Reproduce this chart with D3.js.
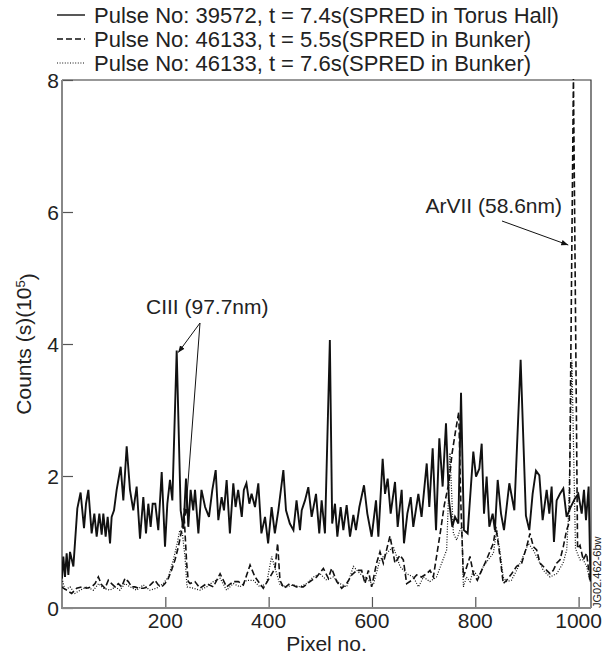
<!DOCTYPE html>
<html lang="en">
<head>
<meta charset="utf-8">
<script src="https://d3js.org/d3.v7.min.js"></script>
<style>
  body { margin: 0; background: #fff; }
  svg text { font-family: "Liberation Sans", Arial, Helvetica, sans-serif; fill: #222; }
</style>
</head>
<body>
<svg id="chart" width="610" height="661"></svg>
<script>

// pixel no. / counts (10^5) pairs
const torusHall_39572 = [[0,0.45],[2.6,0.78],[5.8,0.47],[9,0.83],[12.3,0.5],[15.5,0.85],[22,0.63],[29.7,1.51],[36,1.75],[42.6,1.21],[46.5,1.58],[51,1.79],[57.4,1.13],[62.6,1.43],[67.1,1.08],[72.3,1.43],[76.8,1.11],[80,1.43],[84.5,1.08],[88.4,1.38],[93,0.98],[96.1,1.38],[100.7,1.48],[105.8,1.79],[113.6,2.14],[118.7,1.63],[125.2,2.45],[131.6,1.79],[138,1.48],[144.5,1.84],[151,1.05],[157.4,1.68],[162.6,1.13],[167.1,1.58],[171.6,1.23],[175.5,1.58],[180.6,1.58],[186.4,1.18],[193,2.06],[199.4,0.93],[203.9,1.58],[209,1.94],[213.6,1.63],[222,3.9],[229.7,1.48],[235,1.2],[240,1.96],[244.5,1.23],[249,1.79],[254,1.48],[257.5,1.79],[264,1.13],[270,1.79],[277,1.53],[284.5,1.38],[291,1.79],[297.5,2.09],[302.6,1.33],[309,1.68],[313.6,1.48],[318.7,1.94],[325,1.13],[331.6,1.89],[336,1.53],[341,1.79],[348,1.38],[352,1.79],[357,1.89],[362.6,1.58],[367,1.73],[373.6,1.53],[380,1.89],[386,1.13],[393,1.38],[399,0.98],[405.8,1.53],[412,1.13],[418.8,1.48],[428.5,2.09],[433.6,1.48],[441,1.28],[448,1.18],[454,1.63],[460.7,1.18],[464,1.48],[470.4,1.63],[476.8,1.83],[483.3,1.38],[491.7,1.73],[498,1.13],[502.6,1.63],[509,1.13],[518.5,4.06],[523,1.28],[528.4,1.58],[533,1.08],[539.4,1.53],[544.6,1.18],[551,1.56],[557.5,1.08],[564,1.41],[569,1.18],[575.6,1.53],[584.6,1.86],[591,1.43],[599.4,1.08],[607.8,1.63],[612.4,1.08],[620.7,2.26],[625.3,1.73],[630.4,1.96],[636.2,1.43],[644.6,1.91],[649.8,1.23],[657.5,1.79],[662,0.98],[668.5,1.43],[675,1.68],[680,1.23],[689.8,1.73],[696,1.38],[706,2.19],[711,1.53],[717.5,2.42],[724,1.18],[730.4,2.57],[736.8,1.84],[743.3,2.8],[749,1.63],[755.6,1.23],[760.7,1.38],[767.2,1.28],[772.4,3.26],[778,1.18],[785.2,1.13],[796.2,2.37],[801.4,1.99],[807.8,2.11],[812.4,2.49],[816.9,1.43],[822,1.99],[827.2,1.23],[833.6,1.43],[838,1.18],[843.4,1.94],[849.8,1.43],[855.6,1.18],[865.9,1.89],[875.6,1.48],[887.8,3.76],[898,1.4],[904.6,1.18],[911,1.73],[917.5,2.08],[924,2.01],[930.4,1.33],[938.2,1.79],[943.3,1.43],[947.8,1.84],[952.3,1.0],[957.5,1.63],[964,1.73],[970.4,1.81],[976.8,1.38],[984.6,1.53],[993,1.66],[999.4,1.73],[1006,1.43],[1010.4,1.79],[1014.3,1.33],[1019.4,1.84],[1023,0.4]];

const bunker_46133_55 = [[0,0.32],[2.6,0.3],[9,0.27],[18.7,0.22],[28.4,0.3],[38,0.32],[47.8,0.3],[57.5,0.32],[64,0.37],[70.4,0.47],[76.8,0.35],[83.3,0.3],[89.7,0.42],[96,0.37],[102.6,0.32],[109,0.37],[115.5,0.32],[122,0.45],[128.4,0.4],[135,0.32],[141,0.32],[147.8,0.3],[157.5,0.3],[167,0.32],[173.5,0.37],[180,0.42],[186.4,0.35],[193,0.32],[199.4,0.37],[205.8,0.45],[212.4,0.58],[218.8,0.73],[225.3,0.93],[231.7,1.18],[236.2,1.43],[241.3,0.68],[244.5,0.4],[248,0.37],[257.4,0.4],[267,0.3],[280,0.37],[293,0.32],[306,0.52],[318.6,0.32],[331.6,0.4],[341.3,0.4],[351,0.35],[364,0.65],[373.6,0.47],[389.6,0.3],[402.6,0.47],[412.3,0.6],[417.4,0.98],[421.9,0.42],[429.6,0.3],[441,0.37],[454,0.32],[467,0.32],[480,0.4],[493,0.47],[505.9,0.6],[515.6,0.45],[522,0.6],[531.8,0.4],[541.4,0.3],[551,0.37],[560.8,0.5],[570.5,0.57],[580,0.57],[586.5,0.37],[593,0.57],[599.4,0.32],[609,0.68],[615.5,0.85],[622,0.68],[634.9,1.09],[644.6,0.68],[654.3,0.8],[660.7,0.73],[667.2,0.37],[677,0.42],[686.5,0.5],[696,0.47],[706,0.52],[712.4,0.57],[718.8,0.47],[727,0.88],[733,1.18],[740,1.56],[749,1.9],[755,2.34],[762,2.69],[768,2.97],[772,1.6],[777,0.47],[783.3,0.62],[789.8,0.78],[796.2,0.52],[804,0.42],[812.4,0.57],[818.8,0.68],[825.3,0.8],[835,0.98],[840,1.23],[847.8,0.78],[854.2,0.37],[860.7,0.42],[870.4,0.52],[880,0.63],[889.8,0.68],[899.5,0.93],[905.9,1.13],[912.4,0.93],[918.8,0.88],[925.3,0.68],[931.7,0.63],[938.2,0.57],[944.6,0.52],[951,0.57],[957.5,0.68],[964,0.73],[970.4,0.93],[976.8,1.18],[982,1.3],[990,8.05],[998,0.9],[1002.7,0.95],[1009,0.73],[1015.5,0.83],[1022,0.4]];

const bunker_46133_76 = [[0,0.45],[5.8,0.27],[15.5,0.32],[25,0.22],[35,0.27],[48,0.32],[61,0.27],[71,0.37],[80,0.3],[93,0.27],[103,0.32],[112,0.27],[122,0.37],[132,0.32],[144.6,0.27],[157.5,0.35],[170,0.27],[183,0.3],[196,0.37],[206,0.47],[215.6,0.73],[223,0.98],[228,1.18],[233,1.13],[238,0.78],[242,0.32],[254,0.3],[267,0.27],[280,0.32],[293,0.4],[306,0.45],[318.6,0.27],[331.6,0.37],[344.5,0.32],[357.4,0.42],[370.3,0.42],[383,0.32],[396,0.37],[405.8,0.78],[415.5,0.52],[422,0.35],[435,0.32],[447.8,0.35],[460.7,0.32],[473.6,0.37],[486.5,0.47],[499.4,0.52],[512.4,0.42],[525,0.47],[538,0.37],[551,0.32],[564,0.63],[576.8,0.52],[589.7,0.45],[602.6,0.35],[615.5,0.73],[628.4,0.83],[641.3,0.93],[654.3,0.63],[667.2,0.52],[680,0.47],[690,0.32],[699.6,0.47],[712,0.4],[725,0.47],[735,0.68],[744.6,0.88],[751,2.35],[757.6,1.13],[764,1.03],[770.4,1.18],[774,1.23],[777,0.32],[783,0.47],[790,0.4],[796,0.57],[806,0.47],[815.6,0.63],[825,0.73],[835,0.83],[841.6,1.18],[848,0.85],[854,0.47],[860.7,0.4],[870,0.42],[880,0.57],[890,0.73],[902.7,0.98],[912,0.88],[922,0.73],[931.7,0.57],[944.6,0.47],[957.5,0.52],[970,0.68],[977,0.88],[981,1.5],[987,3.75],[994,0.9],[1002.7,0.73],[1009,0.73],[1015.5,0.63],[1022,0.42]];

const legendLabels = [
  "Pulse No: 39572, t = 7.4s(SPRED in Torus Hall)",
  "Pulse No: 46133, t = 5.5s(SPRED in Bunker)",
  "Pulse No: 46133, t = 7.6s(SPRED in Bunker)"
];
const xTicks = [200, 400, 600, 800, 1000];
const yTicks = [0, 2, 4, 6, 8];

// plot frame
const plot = {left: 62, right: 591, top: 80, bottom: 608};

const svg = d3.select("#chart");

const x = d3.scaleLinear().domain([0, 1024]).range([plot.left, plot.right]);
const y = d3.scaleLinear().domain([0, 8]).range([plot.bottom, plot.top]);

const styles = [
  {width: 1.9, dash: null},
  {width: 1.6, dash: "6,3"},
  {width: 1.2, dash: "1,1.6"}
];

svg.append("defs").append("clipPath").attr("id", "clip")
  .append("rect")
    .attr("x", plot.left).attr("y", plot.top - 1)
    .attr("width", plot.right - plot.left).attr("height", plot.bottom - plot.top + 1);

const marker = svg.select("defs").append("marker")
    .attr("id", "arrow")
    .attr("viewBox", "0 0 10 10")
    .attr("refX", 10).attr("refY", 5)
    .attr("markerWidth", 7).attr("markerHeight", 7)
    .attr("markerUnits", "userSpaceOnUse")
    .attr("orient", "auto");
marker.append("path").attr("d", "M0,1 L10,5 L0,9 Z").attr("fill", "#111");

// top + right frame, thin and dark
svg.append("path")
  .attr("d", `M${plot.left},${plot.top}H${plot.right}V${plot.bottom}`)
  .attr("fill", "none").attr("stroke", "#333").attr("stroke-width", 1.2);

// y axis (ticks drawn inward)
const yAxis = svg.append("g")
  .attr("transform", `translate(${plot.left},0)`)
  .call(d3.axisRight(y).tickValues(yTicks).tickSize(11).tickFormat(""));
yAxis.selectAll("line").attr("stroke", "#555").attr("stroke-width", 1.2);
yAxis.select(".domain").remove();
svg.selectAll(".ylab")
  .data(yTicks)
  .join("text")
    .attr("class", "ylab")
    .attr("x", plot.left - 3)
    .attr("y", d => y(d))
    .attr("dy", "0.36em")
    .attr("text-anchor", "end")
    .style("font-size", "21px")
    .text(d => d);

// x axis (ticks drawn inward)
const xAxis = svg.append("g")
  .attr("transform", `translate(0,${plot.bottom})`)
  .call(d3.axisTop(x).tickValues(xTicks).tickSize(11).tickFormat(""));
xAxis.selectAll("line").attr("stroke", "#555").attr("stroke-width", 1.2);
xAxis.select(".domain").remove();
svg.selectAll(".xlab")
  .data(xTicks)
  .join("text")
    .attr("class", "xlab")
    .attr("x", d => x(d))
    .attr("y", plot.bottom + 20)
    .attr("text-anchor", "middle")
    .style("font-size", "21px")
    .text(d => d);

// left and bottom axis lines, grey
svg.append("path")
  .attr("d", `M${plot.left},${plot.top}V${plot.bottom}H${plot.right}`)
  .attr("fill", "none").attr("stroke", "#888").attr("stroke-width", 2);

// series
const line = d3.line().x(d => x(d[0])).y(d => y(d[1]));
const series = [torusHall_39572, bunker_46133_55, bunker_46133_76];
const lines = svg.append("g").attr("clip-path", "url(#clip)");
series.forEach(function(s, i) {
  lines.append("path")
    .datum(s)
    .attr("d", line)
    .attr("fill", "none")
    .attr("stroke", "#111")
    .attr("stroke-width", styles[i].width)
    .attr("stroke-linejoin", "miter")
    .attr("stroke-dasharray", styles[i].dash);
});

// axis titles
svg.append("text")
  .attr("x", (plot.left + plot.right) / 2)
  .attr("y", 651)
  .attr("text-anchor", "middle")
  .style("font-size", "21px")
  .text("Pixel no.");

const yTitle = svg.append("text")
  .attr("transform", `translate(31,${(plot.top + plot.bottom) / 2}) rotate(-90)`)
  .attr("text-anchor", "middle")
  .style("font-size", "21px");
yTitle.append("tspan").text("Counts (s)(10");
yTitle.append("tspan").attr("dy", "-0.45em").style("font-size", "13px").text("5");
yTitle.append("tspan").attr("dy", "0.45em").text(")");

// legend
const legend = svg.selectAll(".legend")
  .data(legendLabels)
  .join("g")
    .attr("class", "legend")
    .attr("transform", (d, i) => `translate(0,${15 + i * 24})`);
legend.append("line")
  .attr("x1", 57).attr("x2", 85)
  .attr("stroke", "#111")
  .attr("stroke-width", (d, i) => i === 2 ? 1 : 1.4)
  .attr("stroke-dasharray", (d, i) => styles[i].dash);
legend.append("text")
  .attr("x", 94)
  .attr("dy", "0.36em")
  .style("font-size", "22px")
  .text(d => d);

// annotations
svg.append("text")
  .attr("x", 146).attr("y", 314)
  .style("font-size", "21px")
  .text("CIII (97.7nm)");
[[222, 3.9], [236.2, 1.43]].forEach(function(p) {
  svg.append("line")
    .attr("x1", 200).attr("y1", 323)
    .attr("x2", x(p[0]) + 1.5).attr("y2", y(p[1]) + 2)
    .attr("stroke", "#111").attr("stroke-width", 1)
    .attr("marker-end", "url(#arrow)");
});

svg.append("text")
  .attr("x", 562).attr("y", 213)
  .attr("text-anchor", "end")
  .style("font-size", "21px")
  .text("ArVII (58.6nm)");
svg.append("line")
  .attr("x1", 502).attr("y1", 221)
  .attr("x2", x(980)).attr("y2", 245)
  .attr("stroke", "#111").attr("stroke-width", 1)
  .attr("marker-end", "url(#arrow)");

// figure id
svg.append("text")
  .attr("transform", "translate(601,608) rotate(-90)")
  .style("font-size", "11px")
  .text("JG02.462-6bw");

</script>
</body>
</html>
